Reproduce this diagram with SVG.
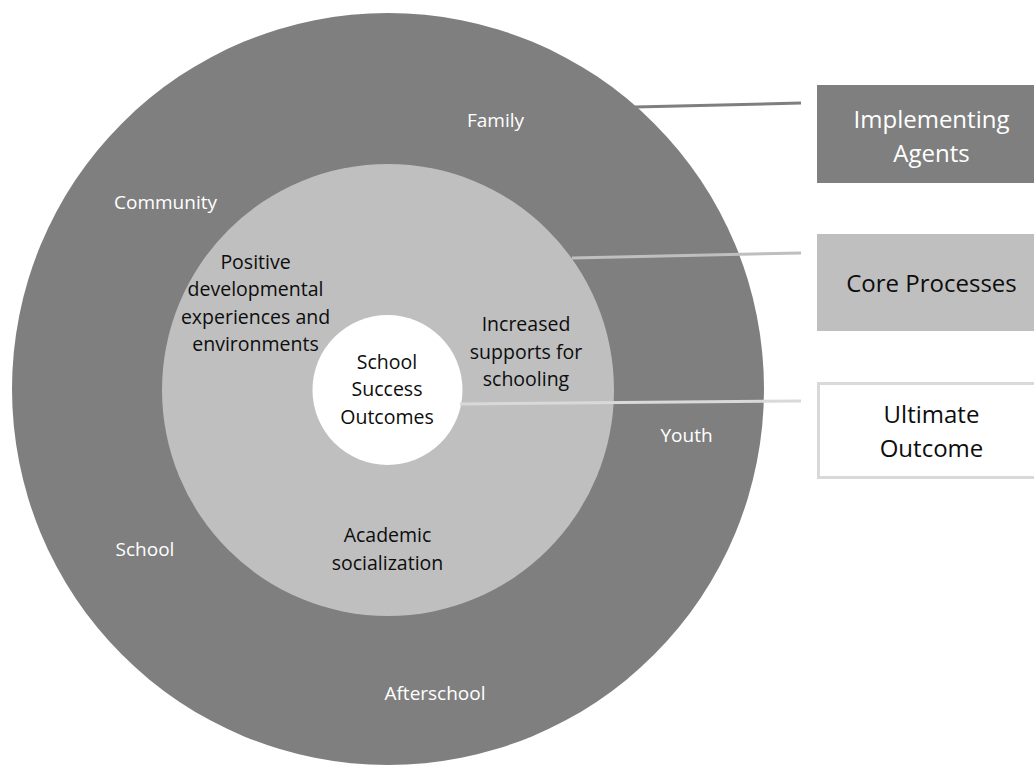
<svg xmlns="http://www.w3.org/2000/svg" width="1034" height="765" viewBox="0 0 1034 765">
  <style>
    text { font-family: "Open Sans", "Noto Sans", "DejaVu Sans", sans-serif; text-anchor: middle; }
    .ring { font-size: 19px; fill: #ffffff; }
    .body { font-size: 19.5px; fill: #0d0d0d; }
    .legend { font-size: 24px; }
    .dark { fill: #7f7f7f; }
    .light { fill: #bfbfbf; }
    .conn { fill: none; stroke-width: 3; stroke-linecap: butt; }
  </style>
  <rect x="0" y="0" width="1034" height="765" fill="#ffffff"/>

  <g id="implementing-agents-ring">
    <circle class="dark" cx="388" cy="389" r="376"/>
    <text class="ring" x="495.5" y="126.5">Family</text>
    <text class="ring" x="165.5" y="208.5">Community</text>
    <text class="ring" x="145" y="555.5">School</text>
    <text class="ring" x="435" y="699.5">Afterschool</text>
    <text class="ring" x="686.5" y="441.5">Youth</text>
  </g>

  <g id="core-processes-ring">
    <circle class="light" cx="388" cy="390" r="226"/>
    <text class="body" x="255.5" y="268.5">Positive</text>
    <text class="body" x="255.5" y="296">developmental</text>
    <text class="body" x="255.5" y="323.5">experiences and</text>
    <text class="body" x="255.5" y="351">environments</text>
    <text class="body" x="526" y="331">Increased</text>
    <text class="body" x="526" y="358.5">supports for</text>
    <text class="body" x="526" y="385.5">schooling</text>
    <text class="body" x="387.5" y="541.5">Academic</text>
    <text class="body" x="387.5" y="570">socialization</text>
  </g>

  <g id="school-success-outcomes">
    <circle cx="387.5" cy="390" r="75" fill="#ffffff"/>
    <text class="body" x="387" y="368.5">School</text>
    <text class="body" x="387" y="396">Success</text>
    <text class="body" x="387" y="423.5">Outcomes</text>
  </g>

  <g id="connectors">
    <line class="conn" x1="635" y1="107" x2="801" y2="103" stroke="#7f7f7f"/>
    <line class="conn" x1="572" y1="258" x2="801" y2="253" stroke="#bfbfbf"/>
    <line class="conn" x1="460" y1="404" x2="801" y2="401" stroke="#d9d9d9"/>
  </g>

  <g id="legend-implementing-agents">
    <rect class="dark" x="817" y="85" width="217" height="98"/>
    <text class="legend" x="931.5" y="128" fill="#ffffff">Implementing</text>
    <text class="legend" x="931.5" y="162" fill="#ffffff">Agents</text>
  </g>

  <g id="legend-core-processes">
    <rect class="light" x="817" y="234" width="217" height="97"/>
    <text class="legend" x="931.5" y="292" fill="#0d0d0d">Core Processes</text>
  </g>

  <g id="legend-ultimate-outcome">
    <rect x="818.5" y="383.5" width="215.5" height="94" fill="#ffffff"/>
    <path d="M1034,383.5 H818.5 V477.5 H1034" fill="none" stroke="#d9d9d9" stroke-width="3"/>
    <text class="legend" x="931.5" y="422.5" fill="#0d0d0d">Ultimate</text>
    <text class="legend" x="931.5" y="456.5" fill="#0d0d0d">Outcome</text>
  </g>
</svg>
